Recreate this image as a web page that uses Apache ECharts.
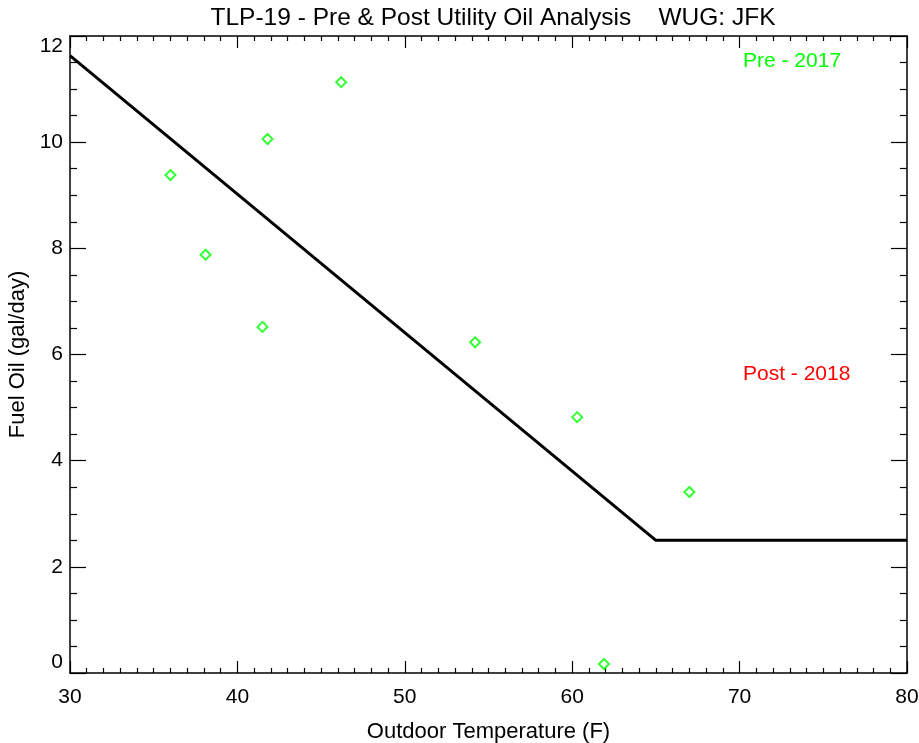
<!DOCTYPE html>
<html><head><meta charset="utf-8">
<script src="https://cdn.jsdelivr.net/npm/echarts@6/dist/echarts.min.js"></script>
<style>html,body{margin:0;padding:0;background:#fff}#c{width:919px;height:743px}</style>
</head><body><div id="c"></div>
<script>
const titleText = "TLP-19 - Pre & Post Utility Oil Analysis    WUG: JFK";
const xTitle = "Outdoor Temperature (F)";
const yTitle = "Fuel Oil (gal/day)";
const preTemps = [36.0, 38.1, 41.5, 41.8, 46.2, 54.2, 60.3, 61.9, 67.0];
const preFuel  = [9.38, 7.88, 6.52, 10.06, 11.13, 6.23, 4.82, 0.17, 3.41];
const fitTemps = [30, 65, 80];
const fitFuel  = [11.63, 2.5, 2.5];
const preLabel = "Pre - 2017";
const postLabel = "Post - 2018";

const font = "Liberation Sans, Arial, sans-serif";
const chart = echarts.init(document.getElementById('c'));
const tickStyle = {color:'#000', width:1.2};
chart.setOption({
  animation:false,
  backgroundColor:'#fff',
  title:{text:titleText, left:488, textAlign:'center', top:1, textStyle:{fontFamily:font, fontSize:24.5, fontWeight:'normal', color:'#000'}},
  grid:{left:70, right:12, top:36, bottom:70, outerBoundsMode:'none', containLabel:false},
  xAxis:[{
    type:'value', min:30, max:80, interval:10, position:'bottom',
    name:xTitle, nameLocation:'middle', nameGap:48,
    nameTextStyle:{fontFamily:font, fontSize:22, color:'#000'},
    axisLine:{show:true, onZero:false, lineStyle:{color:'#000', width:1.5}},
    axisTick:{show:true, inside:true, length:12, lineStyle:tickStyle},
    minorTick:{show:true, splitNumber:10, length:5, lineStyle:tickStyle},
    splitLine:{show:false},
    axisLabel:{fontFamily:font, fontSize:21, color:'#000', margin:14}
  },{
    type:'value', min:30, max:80, interval:10, position:'top',
    axisLine:{show:true, onZero:false, lineStyle:{color:'#000', width:1.5}},
    axisTick:{show:true, inside:true, length:12, lineStyle:tickStyle},
    minorTick:{show:true, splitNumber:10, length:5, lineStyle:tickStyle},
    splitLine:{show:false}, axisLabel:{show:false}
  }],
  yAxis:[{
    type:'value', min:0, max:12, interval:2, position:'left',
    name:yTitle, nameLocation:'middle', nameGap:39,
    nameTextStyle:{fontFamily:font, fontSize:22, color:'#000'},
    axisLine:{show:true, onZero:false, lineStyle:{color:'#000', width:1.5}},
    axisTick:{show:true, inside:true, length:16, lineStyle:tickStyle},
    minorTick:{show:true, splitNumber:4, length:7, lineStyle:tickStyle},
    splitLine:{show:false},
    axisLabel:{fontFamily:font, fontSize:21, color:'#000', margin:7,
      verticalAlignMinLabel:'bottom', verticalAlignMaxLabel:'top'}
  },{
    type:'value', min:0, max:12, interval:2, position:'right',
    axisLine:{show:true, onZero:false, lineStyle:{color:'#000', width:1.5}},
    axisTick:{show:true, inside:true, length:16, lineStyle:tickStyle},
    minorTick:{show:true, splitNumber:4, length:7, lineStyle:tickStyle},
    splitLine:{show:false}, axisLabel:{show:false}
  }],
  series:[{
    type:'line', data:fitTemps.map((t,i)=>[t,fitFuel[i]]),
    showSymbol:false, symbol:'none', lineStyle:{color:'#000', width:3}, z:2
  },{
    type:'scatter', data:preTemps.map((t,i)=>[t,preFuel[i]]),
    symbol:'diamond', symbolSize:10,
    itemStyle:{color:'#fff', borderColor:'#00ff00', borderWidth:2}, z:3
  }],
  graphic:[
    {type:'text', left:743, top:51, style:{text:preLabel, fontFamily:font, fontSize:21, fill:'#00ff00'}},
    {type:'text', left:743, top:364, style:{text:postLabel, fontFamily:font, fontSize:21, fill:'#ff0000'}}
  ]
});
</script></body></html>
